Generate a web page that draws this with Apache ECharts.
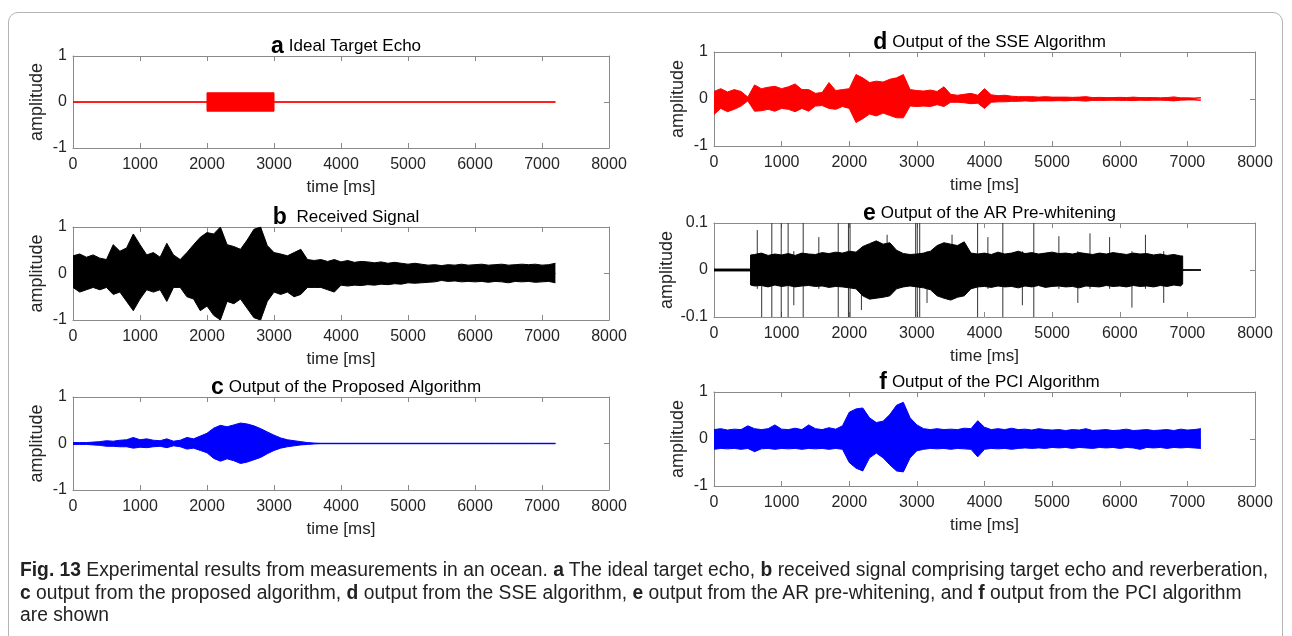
<!DOCTYPE html>
<html>
<head>
<meta charset="utf-8">
<script src="https://cdn.jsdelivr.net/npm/echarts@6/dist/echarts.min.js"></script>
<style>
  html, body { margin: 0; padding: 0; background: #fff; overflow: hidden; }
  #wrap { position: relative; width: 1292px; height: 636px; }
  #chart { position: absolute; left: 0; top: 0; width: 1292px; height: 636px; }
  #frame {
    position: absolute; left: 8px; top: 12px; width: 1275px; height: 700px;
    border: 1px solid #b4b4b4; border-radius: 10px; box-sizing: border-box;
  }
  #caption {
    position: absolute; left: 20px; top: 558px;
    font-family: "Liberation Sans Narrow", "Liberation Sans", sans-serif;
    font-size: 20px; color: #222; line-height: 22.5px;
  }
  #caption div { white-space: nowrap; transform-origin: 0 0; width: max-content; }
  #caption b { font-weight: bold; }
</style>
</head>
<body>
<div id="wrap">
  <div id="frame"></div>
  <div id="chart"></div>
  <div id="caption">
    <div class="ln"><b>Fig. 13</b> Experimental results from measurements in an ocean. <b>a</b> The ideal target echo, <b>b</b> received signal comprising target echo and reverberation,</div>
    <div class="ln"><b>c</b> output from the proposed algorithm, <b>d</b> output from the SSE algorithm, <b>e</b> output from the AR pre-whitening, and <b>f</b> output from the PCI algorithm</div>
    <div class="ln">are shown</div>
  </div>
</div>
<script>
// time grid shared by panels b, c, d, f (ms)
const timeMs = [0, 100, 200, 300, 400, 500, 600, 700, 800, 900,
  1000, 1100, 1200, 1300, 1400, 1500, 1600, 1700, 1800, 1900,
  2000, 2100, 2200, 2300, 2400, 2500, 2600, 2700, 2800, 2900,
  3000, 3100, 3200, 3300, 3400, 3500, 3600, 3700, 3800, 3900,
  4000, 4100, 4200, 4300, 4400, 4500, 4600, 4700, 4800, 4900,
  5000, 5100, 5200, 5300, 5400, 5500, 5600, 5700, 5800, 5900,
  6000, 6100, 6200, 6300, 6400, 6500, 6600, 6700, 6800, 6900,
  7000, 7100, 7200];

// a: ideal target echo (envelope)
const aTime = [0, 2000, 2000, 3000, 3000, 7200];
const aUp = [0, 0, 0.2, 0.2, 0, 0];
const aLo = [0, 0, -0.2, -0.2, 0, 0];

// b: received signal envelope
const bUp = [0.38, 0.42, 0.35, 0.40, 0.33, 0.30, 0.62, 0.48, 0.55, 0.85,
  0.62, 0.40, 0.45, 0.35, 0.65, 0.40, 0.30, 0.45, 0.62, 0.78,
  0.88, 0.85, 1.0, 0.62, 0.58, 0.52, 0.72, 0.95, 1.0, 0.60,
  0.45, 0.42, 0.38, 0.45, 0.52, 0.30, 0.28, 0.30, 0.26, 0.30,
  0.25, 0.28, 0.24, 0.26, 0.25, 0.23, 0.25, 0.22, 0.24, 0.22,
  0.20, 0.22, 0.20, 0.18, 0.19, 0.17, 0.19, 0.18, 0.20, 0.18,
  0.19, 0.20, 0.18, 0.19, 0.20, 0.18, 0.19, 0.20, 0.19, 0.20,
  0.18, 0.19, 0.22];
const bLo = [-0.30, -0.40, -0.35, -0.30, -0.35, -0.30, -0.45, -0.40, -0.60, -0.80,
  -0.55, -0.35, -0.40, -0.35, -0.60, -0.30, -0.30, -0.50, -0.55, -0.80,
  -0.70, -0.90, -1.0, -0.60, -0.65, -0.55, -0.75, -0.95, -1.0, -0.60,
  -0.40, -0.45, -0.40, -0.50, -0.45, -0.30, -0.30, -0.30, -0.35, -0.40,
  -0.25, -0.27, -0.25, -0.26, -0.24, -0.25, -0.23, -0.24, -0.22, -0.23,
  -0.20, -0.21, -0.20, -0.19, -0.18, -0.15, -0.17, -0.16, -0.18, -0.17,
  -0.18, -0.17, -0.19, -0.17, -0.18, -0.20, -0.17, -0.18, -0.17, -0.19,
  -0.18, -0.17, -0.20];

// c: proposed algorithm envelope
const cUp = [0.02, 0.02, 0.02, 0.03, 0.04, 0.06, 0.05, 0.07, 0.08, 0.13,
  0.08, 0.10, 0.07, 0.06, 0.10, 0.05, 0.07, 0.13, 0.10, 0.16,
  0.22, 0.33, 0.39, 0.36, 0.40, 0.44, 0.42, 0.38, 0.32, 0.25,
  0.18, 0.12, 0.08, 0.06, 0.04, 0.02, 0.01, 0.005, 0.005, 0.005,
  0.005, 0.005, 0.005, 0.005, 0.005, 0.005, 0.005, 0.005, 0.005, 0.005,
  0.005, 0.005, 0.005, 0.005, 0.005, 0.005, 0.005, 0.005, 0.005, 0.005,
  0.005, 0.005, 0.005, 0.005, 0.005, 0.005, 0.005, 0.005, 0.005, 0.005,
  0.005, 0.005, 0.005];
const cLo = [-0.02, -0.02, -0.02, -0.03, -0.04, -0.06, -0.06, -0.07, -0.07, -0.10,
  -0.08, -0.09, -0.07, -0.06, -0.09, -0.05, -0.07, -0.12, -0.10, -0.15,
  -0.20, -0.32, -0.38, -0.33, -0.37, -0.43, -0.40, -0.35, -0.30, -0.22,
  -0.15, -0.10, -0.07, -0.05, -0.03, -0.02, -0.01, -0.005, -0.005, -0.005,
  -0.005, -0.005, -0.005, -0.005, -0.005, -0.005, -0.005, -0.005, -0.005, -0.005,
  -0.005, -0.005, -0.005, -0.005, -0.005, -0.005, -0.005, -0.005, -0.005, -0.005,
  -0.005, -0.005, -0.005, -0.005, -0.005, -0.005, -0.005, -0.005, -0.005, -0.005,
  -0.005, -0.005, -0.005];

// d: SSE algorithm envelope
const dUp = [0.16, 0.22, 0.15, 0.20, 0.16, 0.04, 0.30, 0.22, 0.25, 0.27,
  0.22, 0.26, 0.32, 0.20, 0.20, 0.12, 0.14, 0.35, 0.18, 0.20,
  0.22, 0.52, 0.45, 0.35, 0.38, 0.36, 0.42, 0.45, 0.52, 0.20,
  0.18, 0.17, 0.19, 0.16, 0.26, 0.10, 0.08, 0.10, 0.12, 0.08,
  0.22, 0.09, 0.07, 0.08, 0.06, 0.05, 0.05, 0.05, 0.04, 0.05,
  0.04, 0.04, 0.04, 0.035, 0.04, 0.05, 0.03, 0.035, 0.03, 0.03,
  0.035, 0.03, 0.04, 0.03, 0.03, 0.03, 0.025, 0.03, 0.045, 0.025,
  0.025, 0.02, 0.03];
const dLo = [-0.33, -0.20, -0.27, -0.22, -0.15, -0.04, -0.26, -0.25, -0.22, -0.26,
  -0.20, -0.22, -0.27, -0.20, -0.26, -0.15, -0.14, -0.20, -0.22, -0.16,
  -0.20, -0.50, -0.42, -0.32, -0.36, -0.30, -0.35, -0.40, -0.40, -0.15,
  -0.16, -0.15, -0.16, -0.12, -0.16, -0.07, -0.07, -0.08, -0.10, -0.09,
  -0.20, -0.07, -0.06, -0.06, -0.05, -0.05, -0.04, -0.05, -0.04, -0.04,
  -0.04, -0.035, -0.04, -0.03, -0.035, -0.045, -0.03, -0.03, -0.03, -0.025,
  -0.03, -0.03, -0.035, -0.025, -0.03, -0.025, -0.025, -0.03, -0.04, -0.025,
  -0.02, -0.02, -0.03];

// e: AR pre-whitening envelope (own time grid) and impulsive spikes
const eTime = [0, 540, 541, 600, 700, 800, 900,
  1000, 1100, 1200, 1300, 1400, 1500, 1600, 1700, 1800, 1900,
  2000, 2100, 2200, 2300, 2400, 2500, 2600, 2700, 2800, 2900,
  3000, 3100, 3200, 3300, 3400, 3500, 3600, 3700, 3800, 3900,
  4000, 4100, 4200, 4300, 4400, 4500, 4600, 4700, 4800, 4900,
  5000, 5100, 5200, 5300, 5400, 5500, 5600, 5700, 5800, 5900,
  6000, 6100, 6200, 6300, 6400, 6500, 6600, 6700, 6800, 6900,
  6930, 6931, 7200];
const eUp = [0.002, 0.002, 0.032, 0.033, 0.036, 0.031, 0.034,
  0.032, 0.035, 0.031, 0.036, 0.034, 0.033, 0.037, 0.035, 0.038, 0.036,
  0.040, 0.038, 0.050, 0.056, 0.062, 0.055, 0.058, 0.042, 0.035, 0.033,
  0.034, 0.036, 0.040, 0.052, 0.058, 0.055, 0.052, 0.060, 0.036, 0.034,
  0.036, 0.033, 0.038, 0.034, 0.036, 0.040, 0.035, 0.037, 0.034, 0.036,
  0.038, 0.035, 0.036, 0.034, 0.037, 0.035, 0.033, 0.036, 0.034, 0.037,
  0.035, 0.033, 0.036, 0.034, 0.035, 0.032, 0.034, 0.031, 0.033, 0.030,
  0.030, 0.0003, 0.0003];
const eLo = [-0.002, -0.002, -0.032, -0.034, -0.033, -0.036, -0.032,
  -0.035, -0.033, -0.036, -0.034, -0.033, -0.035, -0.034, -0.037, -0.035, -0.036,
  -0.038, -0.040, -0.055, -0.062, -0.060, -0.058, -0.055, -0.040, -0.036, -0.034,
  -0.036, -0.038, -0.042, -0.055, -0.060, -0.064, -0.058, -0.055, -0.040, -0.036,
  -0.035, -0.037, -0.034, -0.036, -0.035, -0.038, -0.034, -0.036, -0.033, -0.037,
  -0.035, -0.034, -0.036, -0.035, -0.038, -0.034, -0.035, -0.036, -0.033, -0.035,
  -0.034, -0.036, -0.033, -0.035, -0.034, -0.036, -0.033, -0.035, -0.032, -0.034,
  -0.030, -0.0003, -0.0003];
const eSpikeT = [640, 705, 855, 994, 1096, 1180, 1319, 1550, 1837, 1988, 2012, 2180, 2560,
  2982, 3006, 3042, 3150, 3520, 3898, 4050, 4271, 4560, 4729, 5100, 5380, 5560, 5850, 6180, 6380, 6650];
const eSpikeLo = [-0.04, -0.1, -0.1, -0.1, -0.1, -0.075, -0.1, -0.04, -0.1, -0.1, -0.1, -0.085, -0.04,
  -0.1, -0.1, -0.1, -0.07, -0.045, -0.1, -0.04, -0.1, -0.075, -0.1, -0.04, -0.07, -0.04, -0.04, -0.08, -0.04, -0.07];
const eSpikeHi = [0.085, 0.035, 0.1, 0.1, 0.1, 0.04, 0.1, 0.07, 0.1, 0.1, 0.1, 0.045, 0.075,
  0.1, 0.1, 0.1, 0.04, 0.075, 0.1, 0.07, 0.1, 0.04, 0.1, 0.072, 0.04, 0.078, 0.07, 0.04, 0.075, 0.04];

// f: PCI algorithm envelope
const fUp = [0.20, 0.22, 0.19, 0.21, 0.20, 0.28, 0.22, 0.20, 0.22, 0.30,
  0.21, 0.20, 0.23, 0.20, 0.30, 0.22, 0.20, 0.24, 0.21, 0.28,
  0.57, 0.64, 0.66, 0.45, 0.35, 0.38, 0.52, 0.72, 0.78, 0.45,
  0.30, 0.22, 0.20, 0.22, 0.20, 0.21, 0.20, 0.23, 0.22, 0.39,
  0.25, 0.20, 0.22, 0.20, 0.23, 0.20, 0.21, 0.19, 0.22, 0.20,
  0.19, 0.20, 0.18, 0.20, 0.19, 0.22, 0.18, 0.19, 0.20, 0.18,
  0.19, 0.21, 0.18, 0.19, 0.20, 0.18, 0.19, 0.20, 0.18, 0.21,
  0.19, 0.20, 0.22];
const fLo = [-0.22, -0.20, -0.21, -0.20, -0.22, -0.20, -0.27, -0.21, -0.20, -0.22,
  -0.20, -0.21, -0.20, -0.22, -0.20, -0.21, -0.20, -0.22, -0.20, -0.22,
  -0.50, -0.62, -0.68, -0.40, -0.30, -0.40, -0.55, -0.68, -0.70, -0.40,
  -0.25, -0.22, -0.20, -0.21, -0.20, -0.22, -0.20, -0.21, -0.22, -0.38,
  -0.22, -0.20, -0.21, -0.20, -0.22, -0.20, -0.19, -0.20, -0.19, -0.20,
  -0.18, -0.19, -0.18, -0.20, -0.18, -0.19, -0.20, -0.18, -0.19, -0.18,
  -0.20, -0.18, -0.19, -0.22, -0.18, -0.19, -0.18, -0.20, -0.18, -0.19,
  -0.18, -0.19, -0.20];

const FONT = 'Liberation Sans';
const TXT = '#262626';
const AXC = '#8a8a8a';

const panels = [
  { letter: 'a', title: 'Ideal Target Echo', grid: [73, 56, 536, 92], yr: 1, color: '#ff0000', t: aTime, up: aUp, lo: aLo },
  { letter: 'b', title: ' Received Signal', grid: [73, 227, 536, 93], yr: 1, color: '#000000', t: timeMs, up: bUp, lo: bLo },
  { letter: 'c', title: 'Output of the Proposed Algorithm', grid: [73, 397, 536, 93], yr: 1, color: '#0000ff', t: timeMs, up: cUp, lo: cLo },
  { letter: 'd', title: 'Output of the SSE Algorithm', grid: [714, 52, 541, 94], yr: 1, color: '#ff0000', t: timeMs, up: dUp, lo: dLo },
  { letter: 'e', title: 'Output of the AR Pre-whitening', grid: [714, 223, 541, 94], yr: 0.1, color: '#000000', t: eTime, up: eUp, lo: eLo },
  { letter: 'f', title: 'Output of the PCI Algorithm', grid: [714, 392, 541, 94], yr: 1, color: '#0000ff', t: timeMs, up: fUp, lo: fLo }
];

const grid = [], xAxis = [], yAxis = [], series = [], title = [];

panels.forEach((p, i) => {
  const [l, tp, w, h] = p.grid;
  grid.push({ left: l, top: tp, width: w, height: h });
  title.push({
    text: '{b|' + p.letter + '} {n|' + p.title + '}',
    left: l + w / 2, top: tp - 26, textAlign: 'center',
    textStyle: { fontWeight: 'normal', rich: {
      b: { fontFamily: FONT, fontWeight: 'bold', fontSize: 23, color: '#000' },
      n: { fontFamily: FONT, fontWeight: 'normal', fontSize: 17, color: '#000' }
    } }
  });
  const common = {
    gridIndex: i, type: 'value', min: 0, max: 8000, interval: 1000,
    axisLine: { show: true, onZero: false, lineStyle: { color: AXC, width: 1 } },
    axisTick: { show: true, inside: true, length: 5, lineStyle: { color: AXC } },
    splitLine: { show: false }
  };
  xAxis.push(Object.assign({}, common, {
    position: 'bottom',
    name: 'time [ms]', nameLocation: 'middle', nameGap: 31,
    nameTextStyle: { fontFamily: FONT, fontSize: 17, color: TXT },
    axisLabel: { show: true, margin: 9, fontFamily: FONT, fontSize: 16, color: TXT,
      formatter: v => String(v) }
  }));
  xAxis.push(Object.assign({}, common, { position: 'top', axisLabel: { show: false } }));
  const ycommon = {
    gridIndex: i, type: 'value', min: -p.yr, max: p.yr, interval: p.yr,
    axisLine: { show: true, onZero: false, lineStyle: { color: AXC, width: 1 } },
    axisTick: { show: true, inside: true, length: 5, lineStyle: { color: AXC } },
    splitLine: { show: false }
  };
  yAxis.push(Object.assign({}, ycommon, {
    position: 'left',
    name: 'amplitude', nameLocation: 'middle', nameGap: p.yr < 1 ? 38 : 27, nameRotate: 90,
    nameTextStyle: { fontFamily: FONT, fontSize: 18, color: TXT },
    axisLabel: { show: true, margin: 6, fontFamily: FONT, fontSize: 16, color: TXT }
  }));
  yAxis.push(Object.assign({}, ycommon, { position: 'right', axisLabel: { show: false } }));

  const xi = i * 2, yi = i * 2;
  [p.up, p.lo].forEach(arr => {
    series.push({
      type: 'line', xAxisIndex: xi, yAxisIndex: yi,
      data: p.t.map((t, k) => [t, arr[k]]),
      showSymbol: false, silent: true, animation: false,
      lineStyle: { color: p.color, width: 1 },
      areaStyle: { color: p.color, opacity: 1 }
    });
  });
  // centre trace, hides the seam between upper and lower fills
  series.push({
    type: 'line', xAxisIndex: xi, yAxisIndex: yi,
    data: [[p.t[0], 0], [p.t[p.t.length - 1], 0]],
    showSymbol: false, silent: true, animation: false,
    lineStyle: { color: p.color, width: 1.2 }
  });
});

// impulsive spikes on panel e
series.push({
  type: 'custom', xAxisIndex: 8, yAxisIndex: 8, silent: true, animation: false, clip: true,
  data: eSpikeT.map((t, k) => [t, eSpikeLo[k], eSpikeHi[k]]),
  renderItem: function (params, api) {
    const a = api.coord([api.value(0), api.value(1)]);
    const b = api.coord([api.value(0), api.value(2)]);
    return { type: 'line', shape: { x1: a[0], y1: a[1], x2: b[0], y2: b[1] },
      style: { stroke: '#333', lineWidth: 1 } };
  }
});

const chart = echarts.init(document.getElementById('chart'));
chart.setOption({ animation: false, title, grid, xAxis, yAxis, series });

// squeeze the caption lines to the column width
const lines = document.querySelectorAll('#caption .ln');
const sx = 1248 / lines[0].getBoundingClientRect().width;
lines.forEach(el => { el.style.transform = 'scaleX(' + sx + ')'; });
</script>
</body>
</html>
